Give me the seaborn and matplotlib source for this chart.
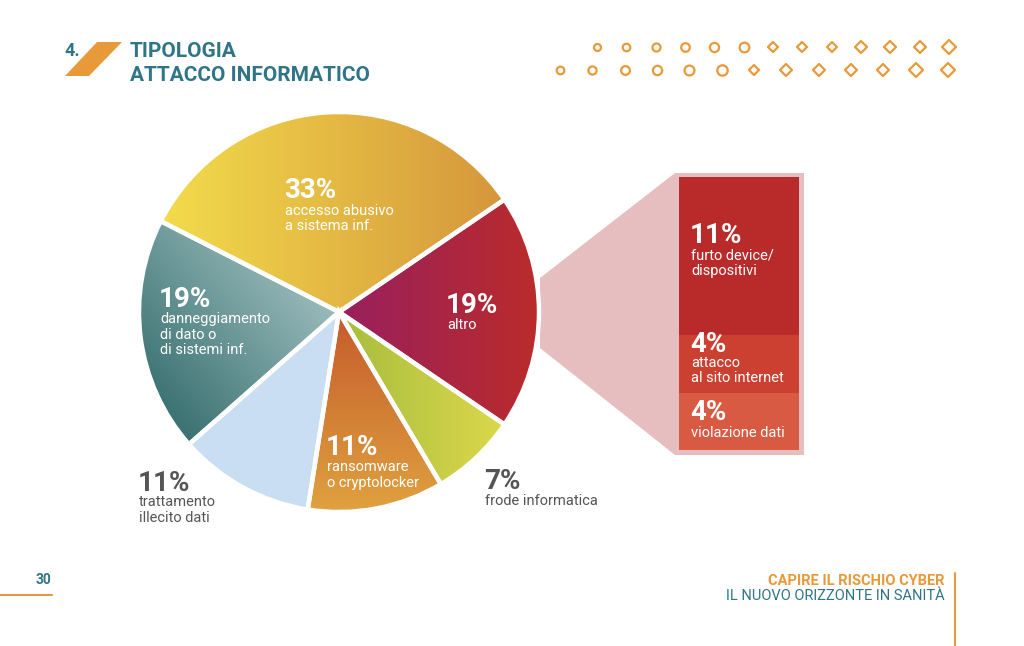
import numpy as np
import matplotlib
matplotlib.use("Agg")
import matplotlib.pyplot as plt
from matplotlib.colors import to_rgb
from matplotlib.patches import Polygon
from matplotlib.markers import MarkerStyle
import seaborn as sns

# data
slice_pct = [33, 19, 11, 11, 7, 19]
slice_pct_labels = ["33%", "19%", "11%", "11%", "7%", "19%"]
slice_text = ["accesso abusivo\na sistema inf.",
              "danneggiamento\ndi dato o\ndi sistemi inf.",
              "trattamento\nillecito dati",
              "ransomware\no cryptolocker",
              "frode informatica",
              "altro"]
# gradient start colour, end colour, direction (deg)
slice_grad = [("#F3DC4B", "#D5963C", 0),
              ("#3A7171", "#9ABBBC", 40),
              ("#C9DEF3", "#C9DEF3", 0),
              ("#C45B2C", "#E0A23F", -90),
              ("#A6BD3E", "#DCD84B", 0),
              ("#98205F", "#BA2B2A", 0)]

altro_pct = [11, 4, 4]
altro_pct_labels = ["11%", "4%", "4%"]
altro_text = ["furto device/\ndispositivi", "attacco\nal sito internet", "violazione dati"]
altro_colors = ["#B92B2A", "#CC4031", "#D95A43"]

TEAL = "#2F7587"
ORANGE = "#E8993A"
GREY = "#555555"

sns.set_theme(style="white")
plt.rcParams["font.family"] = ["Roboto", "DejaVu Sans"]

W, H = 1024, 646
fig = plt.figure(figsize=(W / 100, H / 100), dpi=100)
fig.patch.set_facecolor("white")


def px(x, y):
    return x / W, 1 - y / H


# background overlay in pixel units
bg = fig.add_axes([0, 0, 1, 1], zorder=0)
bg.set_xlim(0, W)
bg.set_ylim(H, 0)
bg.axis("off")

# pink zoom connector + frame
bg.add_patch(Polygon([(540, 278), (675, 173), (804, 173), (804, 455),
                      (675, 455), (540, 348)], closed=True,
                     facecolor="#E6BEBF", edgecolor="none"))

# title
bg.add_patch(Polygon([(65, 76), (89, 76), (122, 42), (97, 42)], closed=True,
                     facecolor=ORANGE, edgecolor="none"))
fig.text(*px(64, 56), "4.", color=TEAL, fontsize=13, fontweight="bold", va="baseline")
fig.text(*px(130, 57), "TIPOLOGIA", color=TEAL, fontsize=15, fontweight="bold", va="baseline")
fig.text(*px(130, 81), "ATTACCO INFORMATICO", color=TEAL, fontsize=15, fontweight="bold",
         va="baseline")

# dot rows
row1_x = np.linspace(597, 949, 13)
row2_x = np.linspace(560, 948, 13)
circle = MarkerStyle("o")
diamond = MarkerStyle("D", joinstyle="round")
for i in range(13):
    mk = circle if i < 6 else diamond
    s1 = 5 + i * 0.4
    s2 = 5.5 + i * 0.4
    if i >= 6:
        s1 *= 0.68
        s2 *= 0.68
    bg.plot(row1_x[i], 47, marker=mk, ms=s1, mfc="white", mec=ORANGE, mew=1.6)
    bg.plot(row2_x[i], 70, marker=mk, ms=s2, mfc="white", mec=ORANGE, mew=1.6)

# footer
fig.text(*px(36, 584), "30", color=TEAL, fontsize=10, fontweight="bold", va="baseline")
bg.plot([0, 52], [595, 595], color=ORANGE, lw=1.5)
fig.text(*px(945, 585), "CAPIRE IL RISCHIO CYBER", color=ORANGE, fontsize=10.5,
         fontweight="bold", ha="right", va="baseline")
fig.text(*px(945, 600), "IL NUOVO ORIZZONTE IN SANITÀ", color=TEAL, fontsize=10.5,
         ha="right", va="baseline")
bg.plot([955, 955], [573, 646], color=ORANGE, lw=1.5)

# pie
cx, cy, r = 339, 312, 200
half = r * 1.1
ax = fig.add_axes([(cx - half) / W, (H - cy - half) / H, 2 * half / W, 2 * half / H], zorder=1)
wedges, _ = ax.pie(slice_pct, startangle=34.2, counterclock=True, radius=1,
                   colors=[g[0] for g in slice_grad],
                   wedgeprops=dict(edgecolor="white", linewidth=3.2))

gx, gy = np.meshgrid(np.linspace(-1.1, 1.1, 500), np.linspace(-1.1, 1.1, 500))
for w, (c0, c1, ang) in zip(wedges, slice_grad):
    a = np.deg2rad(ang)
    verts = w.get_path().vertices
    proj = verts[:, 0] * np.cos(a) + verts[:, 1] * np.sin(a)
    mn, mx = proj.min(), proj.max()
    t = (gx * np.cos(a) + gy * np.sin(a) - mn) / max(mx - mn, 1e-6)
    t = np.clip(t, 0, 1)[..., None]
    img = np.array(to_rgb(c0)) * (1 - t) + np.array(to_rgb(c1)) * t
    im = ax.imshow(img, extent=(-1.1, 1.1, -1.1, 1.1), origin="lower", zorder=1)
    im.set_clip_path(w)
    w.set_facecolor("none")
    w.set_zorder(3)
ax.set_xlim(-1.1, 1.1)
ax.set_ylim(-1.1, 1.1)
ax.set_aspect("equal")
ax.axis("off")

# slice labels (pixel baselines of the percentage and first text line)
slice_label_pos = [(285, 198, 215), (160, 307, 323), (139, 491, 506),
                   (327, 455, 471), (485, 489, 505), (447, 313, 329)]
slice_label_col = ["white", "white", GREY, "white", GREY, "white"]
for lab, txt, (x, yb, yt), col in zip(slice_pct_labels, slice_text, slice_label_pos,
                                      slice_label_col):
    fig.text(*px(x - 1, yb), lab, color=col, fontsize=20, fontweight="bold",
             va="baseline", zorder=5)
    for k, line in enumerate(txt.split("\n")):
        fig.text(*px(x, yt + 15.5 * k), line, color=col, fontsize=10.5,
                 va="baseline", zorder=5)

# breakdown of "altro"
bx = fig.add_axes([679 / W, 1 - 450 / H, 120 / W, 273 / H], zorder=1)
bottom = 0
for v, c in zip(altro_pct, altro_colors):
    bx.bar(0, v, bottom=bottom, width=1, color=c, edgecolor="none")
    bottom += v
bx.set_xlim(-0.5, 0.5)
bx.set_ylim(sum(altro_pct), 0)
bx.axis("off")

altro_label_pos = [(691, 243, 260), (691, 352, 367), (691, 420, 437)]
for lab, txt, (x, yb, yt) in zip(altro_pct_labels, altro_text, altro_label_pos):
    fig.text(*px(x - 1, yb), lab, color="white", fontsize=20, fontweight="bold",
             va="baseline", zorder=5)
    for k, line in enumerate(txt.split("\n")):
        fig.text(*px(x, yt + 15.5 * k), line, color="white", fontsize=10.5,
                 va="baseline", zorder=5)

fig.savefig("out.png", dpi=100)
